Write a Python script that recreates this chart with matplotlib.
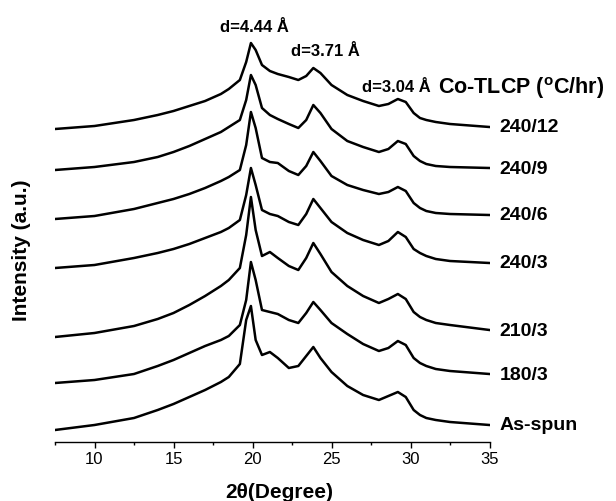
import numpy as np
import matplotlib
matplotlib.use("Agg")
import matplotlib.pyplot as plt
from matplotlib.ticker import MultipleLocator

plt.rcParams['font.family'] = ['Liberation Sans', 'DejaVu Sans']

# 2-theta sample points (degrees)
two_theta = [7.5, 10, 12.5, 14, 15, 16, 17, 18, 18.5, 19.2, 19.6, 19.9, 20.2, 20.6,
             21.1, 21.6, 22.3, 22.9, 23.4, 23.85, 24.3, 25, 26, 27, 28, 28.6, 29.2,
             29.7, 30.2, 30.6, 31, 31.6, 32.5, 35]

# intensities (a.u.), relative to each trace's start
i_240_12 = [0, 3, 9, 14, 18, 23, 28, 35, 40, 49, 67, 86, 79, 64, 58, 55, 52, 49, 53,
            61, 56, 44, 34, 28, 23, 25, 30, 27, 16, 11, 9, 7, 5, 2]
i_240_9 = [0, 3, 8, 13, 18, 24, 31, 38, 43, 50, 70, 95, 85, 62, 55, 51, 46, 42, 50,
           65, 57, 41, 29, 23, 18, 21, 29, 26, 14, 9, 6, 4, 3, 2]
i_240_6 = [0, 3, 10, 16, 20, 25, 31, 38, 42, 49, 74, 107, 91, 61, 57, 56, 48, 44, 53,
           67, 58, 43, 34, 29, 25, 27, 32, 28, 16, 11, 8, 6, 5, 4]
i_240_3 = [0, 3, 10, 15, 19, 24, 30, 36, 40, 48, 73, 100, 83, 58, 54, 52, 46, 43, 54,
           69, 60, 46, 35, 28, 23, 27, 36, 31, 19, 15, 12, 9, 7, 5]
i_210_3 = [0, 4, 11, 18, 24, 32, 41, 51, 57, 69, 102, 140, 107, 81, 85, 79, 71, 67, 79,
           94, 83, 65, 51, 41, 34, 38, 43, 38, 25, 20, 17, 14, 12, 7]
i_180_3 = [0, 3, 9, 17, 23, 30, 37, 43, 47, 58, 83, 121, 103, 73, 71, 69, 63, 60, 70,
           81, 73, 60, 49, 39, 32, 35, 42, 38, 25, 20, 17, 14, 12, 9]
i_as_spun = [0, 5, 12, 20, 26, 33, 40, 48, 53, 66, 110, 124, 90, 75, 78, 72, 62, 64, 74,
             83, 72, 58, 44, 35, 30, 34, 38, 33, 20, 15, 12, 10, 8, 5]

sample_names = ["240/12", "240/9", "240/6", "240/3", "210/3", "180/3", "As-spun"]
offsets = [313, 272, 223, 174, 105, 59, 12]
traces = [i_240_12, i_240_9, i_240_6, i_240_3, i_210_3, i_180_3, i_as_spun]

peak_labels = ["d=4.44 Å", "d=3.71 Å", "d=3.04 Å"]

fig = plt.figure(figsize=(6.16, 5.01), dpi=100)
ax = fig.add_axes([55 / 616, 59 / 501, 434.5 / 616, 422 / 501])

for name, off, tr in zip(sample_names, offsets, traces):
    y = np.array(tr) + off
    ax.plot(two_theta, y, color="black", lw=1.8)
    ax.text(35.65, y[-1] - 1, name, fontsize=14, fontweight="bold",
            va="center", ha="left", clip_on=False)

ax.text(20.1, 414, peak_labels[0], fontsize=12, fontweight="bold", ha="center", va="center")
ax.text(24.6, 390, peak_labels[1], fontsize=12, fontweight="bold", ha="center", va="center")
ax.text(26.9, 354, peak_labels[2], fontsize=12, fontweight="bold", ha="left", va="center")
ax.text(31.74, 354, r"Co-TLCP ($^{\mathregular{o}}$C/hr)", fontsize=15.5,
        fontweight="bold", ha="left", va="center", clip_on=False)

ax.set_xlim(7.5, 35)
ax.set_ylim(0, 422)
ax.xaxis.set_major_locator(MultipleLocator(5))
ax.xaxis.set_minor_locator(MultipleLocator(2.5))
ax.tick_params(axis="x", which="major", length=4, width=1, labelsize=12, direction="out")
ax.tick_params(axis="x", which="minor", length=2.5, width=1)
ax.set_yticks([])
for s in ["left", "top", "right"]:
    ax.spines[s].set_visible(False)
ax.spines["bottom"].set_linewidth(1)

fig.text(279 / 616, 1 - 492 / 501, "2θ(Degree)", fontsize=15, fontweight="bold",
         ha="center", va="center")
fig.text(22 / 616, 1 - 250 / 501, "Intensity (a.u.)", fontsize=15, fontweight="bold",
         ha="center", va="center", rotation=90)

fig.savefig("out.png", dpi=100)
